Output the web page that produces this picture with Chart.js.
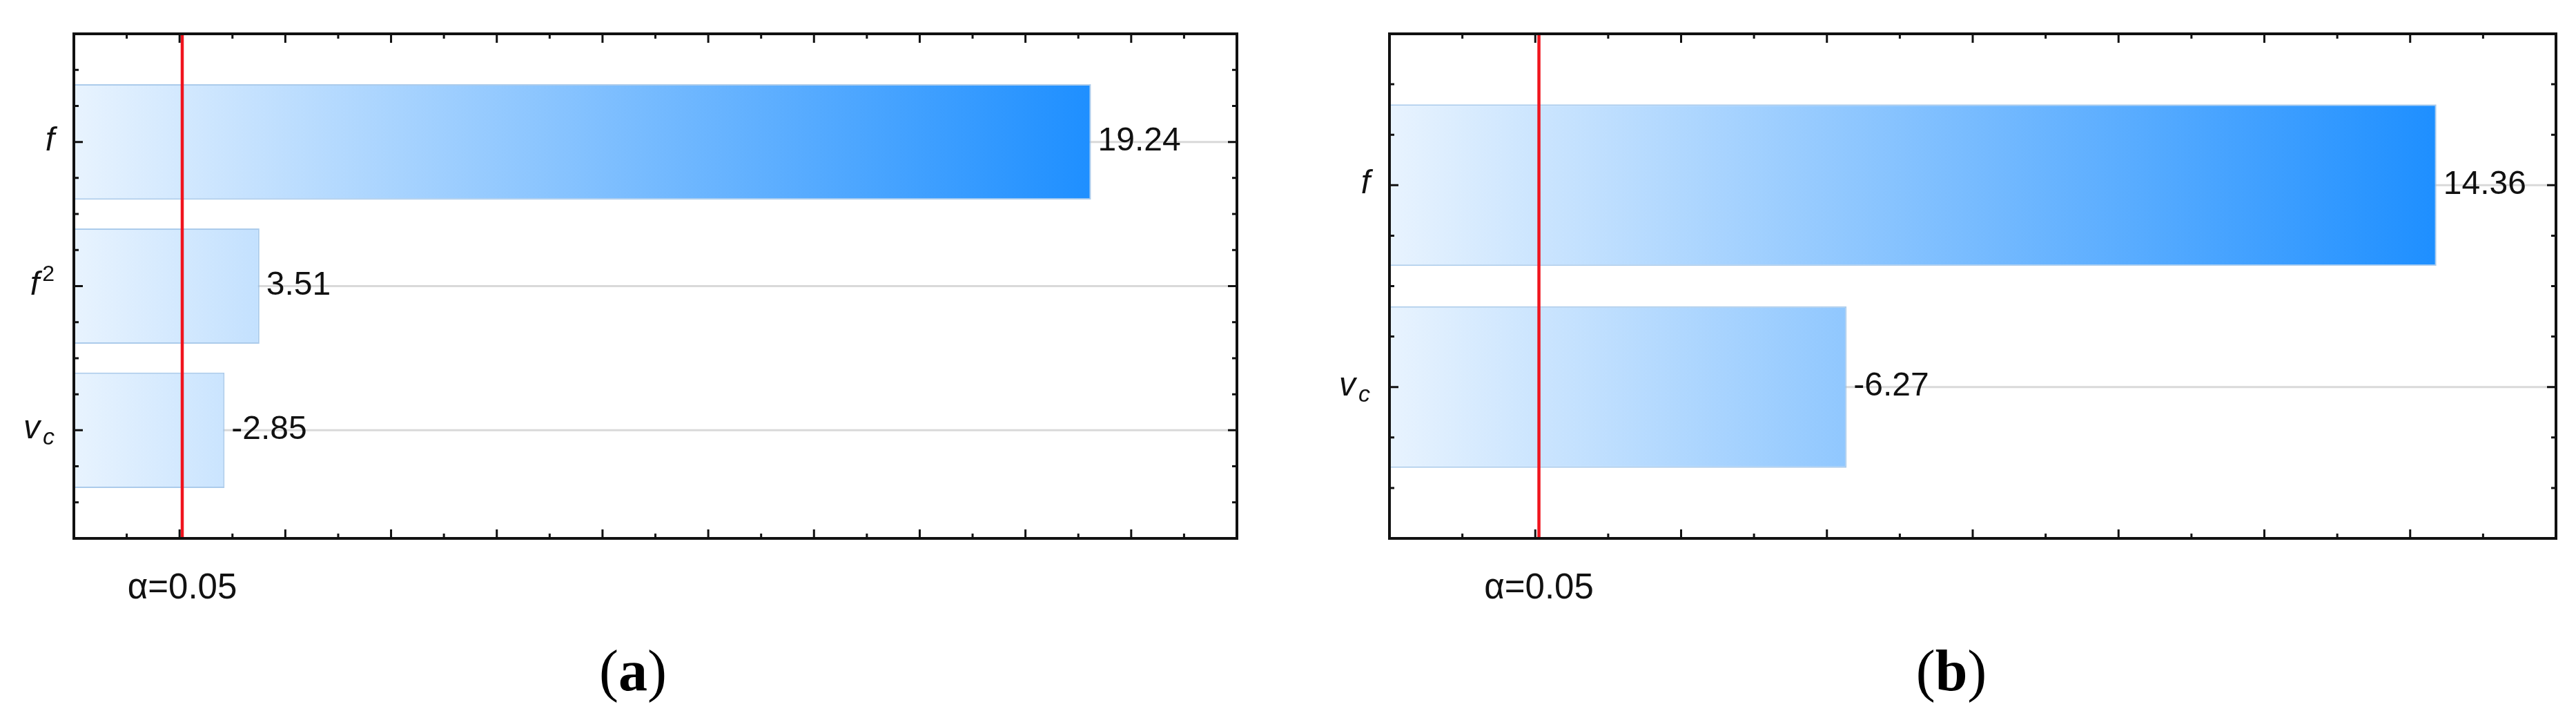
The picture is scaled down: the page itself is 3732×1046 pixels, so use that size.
<!DOCTYPE html>
<html>
<head>
<meta charset="utf-8">
<script src="https://cdn.jsdelivr.net/npm/chart.js@4.4.1/dist/chart.umd.min.js"></script>
<style>
  body { margin: 0; background: #fff; }
  #wrap { position: relative; width: 3732px; height: 1046px; overflow: hidden; background: #fff; }
  canvas { position: absolute; top: 0; }
  .cap { position: absolute; top: 930px; width: 300px; text-align: center;
         font: 84px/1 "Liberation Serif", "Times New Roman", serif; color: #000; }
</style>
</head>
<body>
<div id="wrap">
  <canvas id="chartA" width="1866" height="1046" style="left:0"></canvas>
  <canvas id="chartB" width="1866" height="1046" style="left:1866px"></canvas>
  <div class="cap" id="capA" style="left:767px"></div>
  <div class="cap" id="capB" style="left:2677px"></div>
</div>
<script>
// panel (a): standardized effects
const catsA = ['f', 'f^2', 'v_c'];
const effectsA = [19.24, 3.51, -2.85];
// panel (b)
const catsB = ['f', 'v_c'];
const effectsB = [14.36, -6.27];

const xMaxA = 22;
const xMaxB = 16;
const critValue = 2.05;
const alphaLabel = 'α=0.05';
const panelLetters = ['a', 'b'];

const FONT = '"Liberation Sans", Arial, sans-serif';

function barGradient(chart, maxAbs) {
  const {ctx, chartArea, scales} = chart;
  if (!chartArea) return '#8fc5fb';
  const x0 = scales.x.getPixelForValue(0);
  const x1 = scales.x.getPixelForValue(maxAbs);
  const g = ctx.createLinearGradient(x0, 0, x1, 0);
  g.addColorStop(0, '#e8f3fe');
  g.addColorStop(1, '#1e8fff');
  return g;
}

// label like f, f^2 or v_c : italic letter with optional super/subscript
function drawCatLabel(ctx, label, xRight, yBase) {
  const parts = label.split(/([\^_])/);
  const base = parts[0], kind = parts[1], mod = parts[2];
  const baseFont = 'italic 48px ' + FONT;
  const modFont = kind === '^' ? '32px ' + FONT : 'italic 34px ' + FONT;
  ctx.textAlign = 'left';
  ctx.textBaseline = 'alphabetic';
  ctx.font = baseFont;
  const wb = ctx.measureText(base).width;
  let wm = 0;
  if (mod) {
    ctx.font = modFont;
    wm = ctx.measureText(mod).width + 4;
  }
  const x0 = xRight - wb - wm;
  ctx.font = baseFont;
  ctx.fillText(base, x0, yBase);
  if (mod) {
    ctx.font = modFont;
    ctx.fillText(mod, x0 + wb + 4, kind === '^' ? yBase - 20 : yBase + 9);
  }
}

function makePlugin(values) {
  return {
    id: 'pareto',
    beforeDatasetsDraw(chart) {
      const {ctx, chartArea: a, scales: {y}} = chart;
      ctx.save();
      ctx.strokeStyle = '#d9d9d9';
      ctx.lineWidth = 3;
      y.ticks.forEach(t => {
        const py = y.getPixelForValue(t.value);
        ctx.beginPath();
        ctx.moveTo(a.left, py);
        ctx.lineTo(a.right, py);
        ctx.stroke();
      });
      ctx.restore();
    },
    afterDatasetsDraw(chart) {
      const {ctx, chartArea: a, scales: {x, y}} = chart;
      ctx.save();

      // critical t line
      const cx = x.getPixelForValue(critValue);
      ctx.strokeStyle = '#f0141e';
      ctx.lineWidth = 4.5;
      ctx.beginPath();
      ctx.moveTo(cx, a.top);
      ctx.lineTo(cx, a.bottom);
      ctx.stroke();

      // inward ticks on all four sides
      ctx.strokeStyle = '#111';
      ctx.lineWidth = 3;
      x.ticks.forEach(t => {
        const px = x.getPixelForValue(t.value);
        const len = t.value % 2 === 0 ? 13 : 7;
        ctx.beginPath();
        ctx.moveTo(px, a.bottom); ctx.lineTo(px, a.bottom - len);
        ctx.moveTo(px, a.top); ctx.lineTo(px, a.top + len);
        ctx.stroke();
      });
      for (let v = y.min + 0.25; v < y.max - 1e-6; v += 0.25) {
        const py = y.getPixelForValue(v);
        const len = Math.abs(v - Math.round(v)) < 1e-6 ? 13 : 7;
        ctx.beginPath();
        ctx.moveTo(a.left, py); ctx.lineTo(a.left + len, py);
        ctx.moveTo(a.right, py); ctx.lineTo(a.right - len, py);
        ctx.stroke();
      }
      ctx.lineWidth = 4;
      ctx.strokeRect(a.left, a.top, a.right - a.left, a.bottom - a.top);

      // value labels
      ctx.fillStyle = '#111';
      ctx.font = '48px ' + FONT;
      ctx.textAlign = 'left';
      ctx.textBaseline = 'middle';
      chart.getDatasetMeta(0).data.forEach((bar, i) => {
        ctx.fillText(values[i].toFixed(2), bar.x + 10, bar.y - 1);
      });

      ctx.font = '51px ' + FONT;
      ctx.textAlign = 'center';
      ctx.textBaseline = 'alphabetic';
      ctx.fillText(alphaLabel, cx, a.bottom + 87);

      y.ticks.forEach(t => drawCatLabel(ctx, t.label, a.left - 28, y.getPixelForValue(t.value) + 12));
      ctx.restore();
    }
  };
}

function makeChart(id, cats, values, xMax, pad) {
  const maxAbs = Math.max(...values.map(Math.abs));
  return new Chart(document.getElementById(id), {
    type: 'bar',
    data: {
      datasets: [{
        data: values.map((v, i) => ({x: Math.abs(v), y: i})),
        backgroundColor: c => barGradient(c.chart, maxAbs),
        borderColor: 'rgba(150,190,230,0.8)',
        borderWidth: 2,
        categoryPercentage: 1,
        barPercentage: 0.8
      }]
    },
    options: {
      indexAxis: 'y',
      responsive: false,
      animation: false,
      layout: {padding: pad},
      plugins: {
        legend: {display: false},
        tooltip: {enabled: false}
      },
      scales: {
        x: {
          type: 'linear', display: false, min: 0, max: xMax,
          ticks: {stepSize: 1}
        },
        y: {
          type: 'linear', display: false, reverse: true, bounds: 'data', offset: false,
          min: -0.75, max: cats.length - 0.25,
          afterBuildTicks: s => { s.ticks = cats.map((c, i) => ({value: i})); },
          ticks: {display: false, callback: v => cats[v]}
        }
      }
    },
    plugins: [makePlugin(values)]
  });
}

makeChart('chartA', catsA, effectsA, xMaxA, {left: 107, right: 74, top: 49, bottom: 266});
makeChart('chartB', catsB, effectsB, xMaxB, {left: 147, right: 29, top: 49, bottom: 266});

document.getElementById('capA').innerHTML = '(<b>' + panelLetters[0] + '</b>)';
document.getElementById('capB').innerHTML = '(<b>' + panelLetters[1] + '</b>)';
</script>
</body>
</html>
